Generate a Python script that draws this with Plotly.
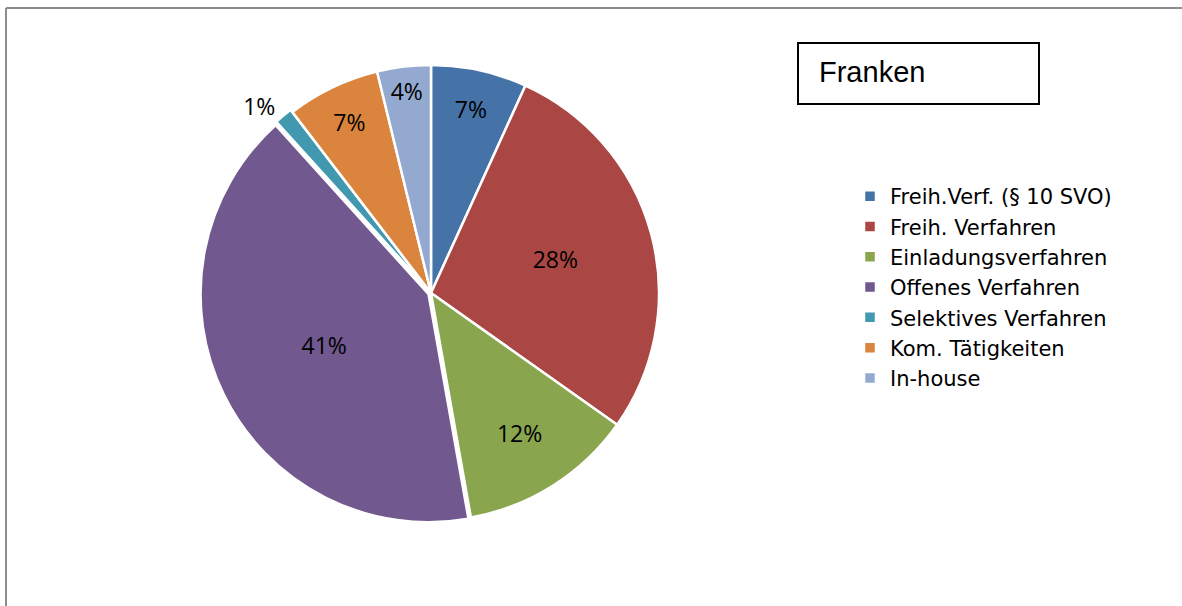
import plotly.graph_objects as go

labels = ["Freih.Verf. (§ 10 SVO)", "Freih. Verfahren", "Einladungsverfahren",
          "Offenes Verfahren", "Selektives Verfahren", "Kom. Tätigkeiten", "In-house"]
values = [6.8, 28.0, 12.4, 41.1, 1.3, 6.6, 3.8]
colors = ["#4572A7", "#AA4643", "#89A54E", "#71588F", "#4198AF", "#DB843D", "#93A9CF"]
pulls = [0, 0, 0, 0.012, 0.012, 0, 0]
textpos = ["inside", "inside", "inside", "inside", "outside", "inside", "inside"]

W, H = 1182, 606
cx, cy, r = 431, 293, 228
f = 1 + max(pulls)
R = r * f

fig = go.Figure(go.Pie(
    labels=labels, values=values, sort=False, direction="clockwise", rotation=0,
    marker=dict(colors=colors, line=dict(color="white", width=2.5)),
    pull=pulls, textposition=textpos, texttemplate="%{percent:.0%}",
    textfont=dict(family="Open Sans", size=23, color="black"),
    insidetextorientation="horizontal",
    domain=dict(x=[(cx - R) / W, (cx + R) / W], y=[1 - (cy + R) / H, 1 - (cy - R) / H]),
    hoverinfo="label+percent",
))

fig.update_layout(
    width=W, height=H, margin=dict(l=0, r=0, t=0, b=0),
    paper_bgcolor="white", plot_bgcolor="white",
    showlegend=True,
    legend=dict(x=850 / W, y=1 - 176 / H, xanchor="left", yanchor="top",
                font=dict(family="DejaVu Sans", size=21, color="black"),
                itemwidth=30, tracegroupgap=0, bgcolor="rgba(0,0,0,0)"),
    shapes=[
        dict(type="line", xref="paper", yref="paper", x0=6 / W, x1=6 / W, y0=0, y1=1 - 8 / H,
             line=dict(color="#8c8c8c", width=2)),
        dict(type="line", xref="paper", yref="paper", x0=6 / W, x1=1, y0=1 - 8 / H, y1=1 - 8 / H,
             line=dict(color="#8c8c8c", width=2)),
        dict(type="rect", xref="paper", yref="paper", x0=798 / W, x1=1039 / W,
             y0=1 - 104 / H, y1=1 - 43 / H, line=dict(color="black", width=2),
             fillcolor="white"),
    ],
    annotations=[
        dict(text="Franken", xref="paper", yref="paper", x=817 / W, y=1 - 72 / H,
             xanchor="left", yanchor="middle", showarrow=False,
             font=dict(family="Liberation Sans", size=29, color="black")),
    ],
)

fig.write_html("out.html", config={"displayModeBar": False},
               post_script="document.body.style.margin='0';")
